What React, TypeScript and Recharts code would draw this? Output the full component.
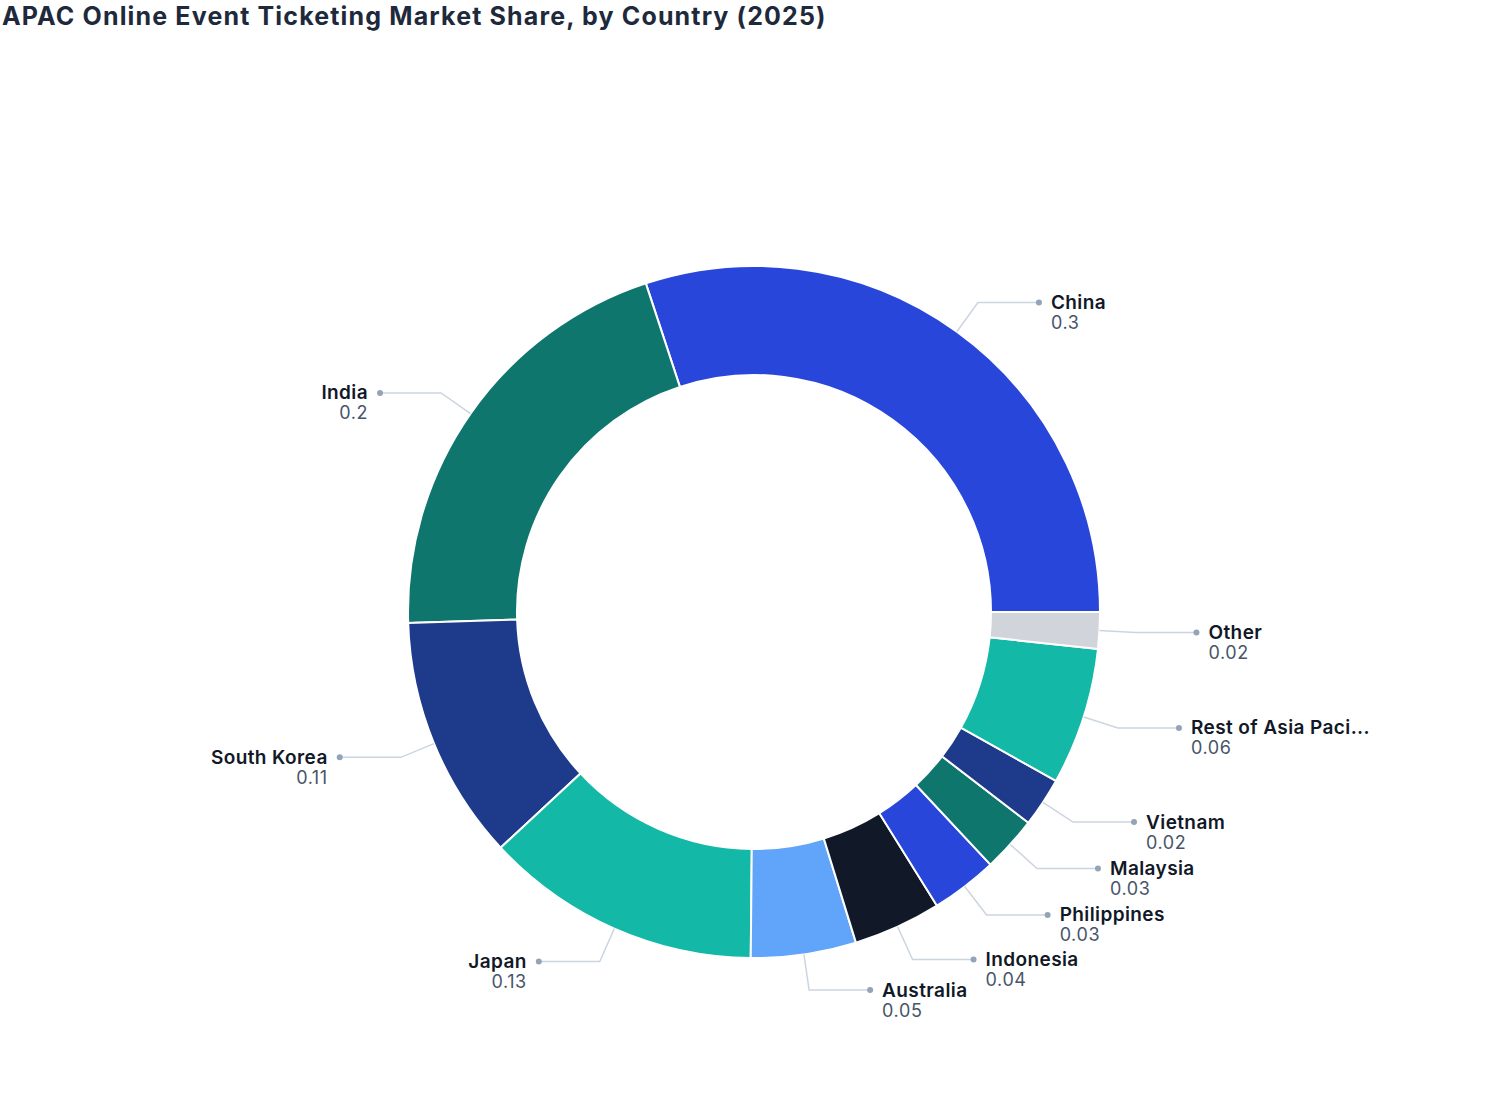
import { PieChart, Pie, Cell } from "recharts";

const countries = [
  "China",
  "India",
  "South Korea",
  "Japan",
  "Australia",
  "Indonesia",
  "Philippines",
  "Malaysia",
  "Vietnam",
  "Rest of Asia Pacific",
  "Other",
];
const shares = [0.3, 0.204, 0.114, 0.129, 0.049, 0.041, 0.031, 0.026, 0.023, 0.064, 0.017];
const sliceColors = [
  "#2946DB",
  "#0F766E",
  "#1E3A8A",
  "#14B8A6",
  "#60A5FA",
  "#111827",
  "#2946DB",
  "#0F766E",
  "#1E3A8A",
  "#14B8A6",
  "#D1D5DB",
];

const data = countries.map((name, i) => ({ name, value: shares[i] }));

const RADIAN = Math.PI / 180;
const FONT = "Inter, 'Noto Sans', sans-serif";

function shortName(name: string) {
  return name.length > 18 ? name.slice(0, 17) + "..." : name;
}

function renderLabel(props: any) {
  const { cx, cy, midAngle, outerRadius, name, value } = props;
  const cos = Math.cos(-midAngle * RADIAN);
  const sin = Math.sin(-midAngle * RADIAN);
  const sx = cx + outerRadius * cos;
  const sy = cy + outerRadius * sin;
  const mx = cx + (outerRadius + 36) * cos;
  const my = cy + (outerRadius + 36) * sin;
  const right = cos >= 0;
  const ex = mx + (right ? 61 : -61);
  const tx = ex + (right ? 12 : -12);
  const anchor = right ? "start" : "end";
  return (
    <g>
      <path
        d={`M${sx},${sy}L${mx},${my}L${ex},${my}`}
        stroke="#CBD5E1"
        strokeWidth={1.5}
        fill="none"
      />
      <circle cx={ex} cy={my} r={3} fill="#94A3B8" />
      <text
        x={tx}
        y={my + 6.5}
        textAnchor={anchor}
        fontFamily={FONT}
        fontSize={19}
        fontWeight={600}
        letterSpacing={0.4}
        fill="#111827"
      >
        {shortName(name)}
      </text>
      <text
        x={tx}
        y={my + 26.5}
        textAnchor={anchor}
        fontFamily={FONT}
        fontSize={18}
        letterSpacing={0.6}
        fill="#475569"
      >
        {Number(value.toFixed(2))}
      </text>
    </g>
  );
}

export default function App() {
  return (
    <div
      style={{
        position: "absolute",
        left: 0,
        top: 0,
        width: 1508,
        height: 1120,
        background: "#ffffff",
        fontFamily: FONT,
      }}
    >
      <div
        style={{
          position: "absolute",
          left: 2,
          top: 1,
          fontSize: 25,
          fontWeight: 700,
          letterSpacing: 1.15,
          color: "#1E293B",
          whiteSpace: "nowrap",
        }}
      >
        APAC Online Event Ticketing Market Share, by Country (2025)
      </div>
      <PieChart width={1508} height={1120} margin={{ top: 0, right: 0, bottom: 0, left: 0 }}>
        <Pie
          data={data}
          dataKey="value"
          nameKey="name"
          cx={754}
          cy={612}
          innerRadius={237}
          outerRadius={346}
          startAngle={0}
          endAngle={360}
          stroke="#ffffff"
          strokeWidth={2}
          label={renderLabel}
          labelLine={false}
          isAnimationActive={false}
        >
          {data.map((d, i) => (
            <Cell key={d.name} fill={sliceColors[i]} />
          ))}
        </Pie>
      </PieChart>
    </div>
  );
}
